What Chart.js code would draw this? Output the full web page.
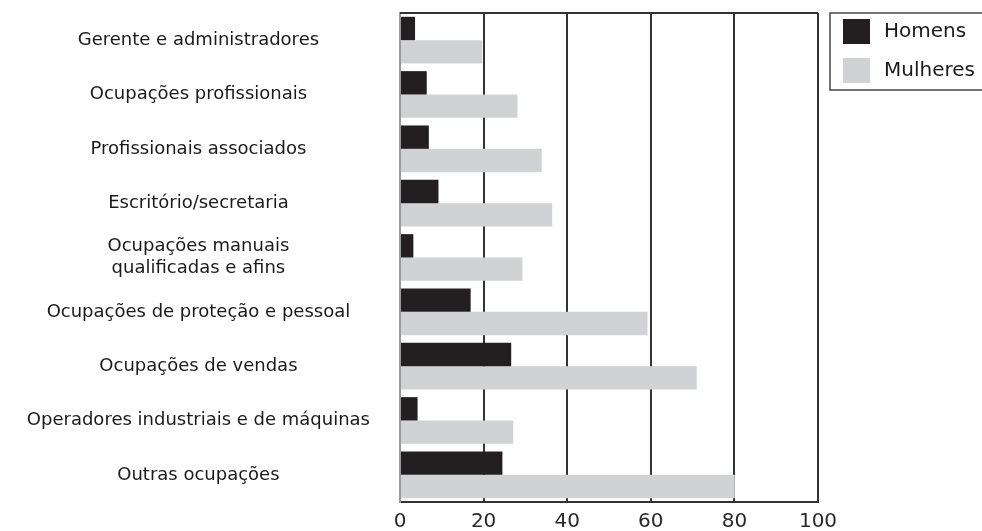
<!DOCTYPE html>
<html>
<head>
<meta charset="utf-8">
<script src="https://cdn.jsdelivr.net/npm/chart.js@4"></script>
<style>
  html, body { margin: 0; padding: 0; background: #fff; }
  #wrap { width: 982px; height: 531px; position: relative; }
</style>
</head>
<body>
<div id="wrap"><canvas id="myChart"></canvas></div>
<script>
const categories = [
  'Gerente e administradores',
  'Ocupações profissionais',
  'Profissionais associados',
  'Escritório/secretaria',
  ['Ocupações manuais', 'qualificadas e afins'],
  'Ocupações de proteção e pessoal',
  'Ocupações de vendas',
  'Operadores industriais e de máquinas',
  'Outras ocupações'
];
const homens = [3.6, 6.4, 6.9, 9.2, 3.2, 16.9, 26.6, 4.2, 24.5];
const mulheres = [19.7, 28.1, 33.9, 36.4, 29.3, 59.2, 71.0, 27.1, 80.1];
const xTicks = [0, 20, 40, 60, 80, 100];

const FONT = "'DejaVu Sans', sans-serif";

// box legend + top border of the plot
const boxPlugin = {
  id: 'boxPlugin',
  afterDraw(chart) {
    const ctx = chart.ctx;
    const a = chart.chartArea;
    ctx.save();
    ctx.strokeStyle = '#333';
    ctx.lineWidth = 2;
    ctx.beginPath();
    ctx.moveTo(a.left, a.top);
    ctx.lineTo(a.right, a.top);
    ctx.stroke();

    // legend
    const lx = a.right + 12, ly = a.top;
    ctx.lineWidth = 1.5;
    ctx.strokeStyle = '#444';
    ctx.strokeRect(lx, ly, 175, 77);
    ctx.font = '20px ' + FONT;
    ctx.textBaseline = 'middle';
    ctx.textAlign = 'left';
    chart.data.datasets.forEach((ds, i) => {
      const y = ly + 6 + i * 39;
      ctx.fillStyle = ds.backgroundColor;
      ctx.fillRect(lx + 13, y, 27, 25);
      ctx.fillStyle = '#1a1a1a';
      ctx.fillText(ds.label, lx + 54, y + 13);
    });
    ctx.restore();
  }
};

new Chart(document.getElementById('myChart'), {
  type: 'bar',
  data: {
    labels: categories,
    datasets: [
      { label: 'Homens', data: homens, backgroundColor: '#231f20',
        categoryPercentage: 0.86, barPercentage: 1.0 },
      { label: 'Mulheres', data: mulheres, backgroundColor: '#d1d2d4',
        categoryPercentage: 0.86, barPercentage: 1.0 }
    ]
  },
  options: {
    indexAxis: 'y',
    responsive: true,
    maintainAspectRatio: false,
    animation: false,
    layout: { padding: { top: 13, right: 164, left: 0, bottom: 0 } },
    plugins: {
      legend: { display: false },
      tooltip: { enabled: false }
    },
    scales: {
      x: {
        min: 0,
        max: 100,
        afterFit(scale) { scale.height = 29; scale.paddingLeft = 0; scale.paddingRight = 0; },
        afterBuildTicks(scale) { scale.ticks = xTicks.map(v => ({ value: v })); },
        grid: {
          color: '#333',
          lineWidth: 2,
          drawTicks: false
        },
        border: { color: '#333', width: 2 },
        ticks: {
          color: '#2a2a2a',
          padding: 8,
          font: { family: FONT, size: 20 }
        }
      },
      y: {
        afterFit(scale) { scale.width = 400; scale.paddingTop = 0; scale.paddingBottom = 0; },
        grid: { display: false },
        border: { color: '#999', width: 2 },
        ticks: {
          color: '#1a1a1a',
          crossAlign: 'center',
          padding: 22,
          font: { family: FONT, size: 18 }
        }
      }
    }
  },
  plugins: [boxPlugin]
});
</script>
</body>
</html>
